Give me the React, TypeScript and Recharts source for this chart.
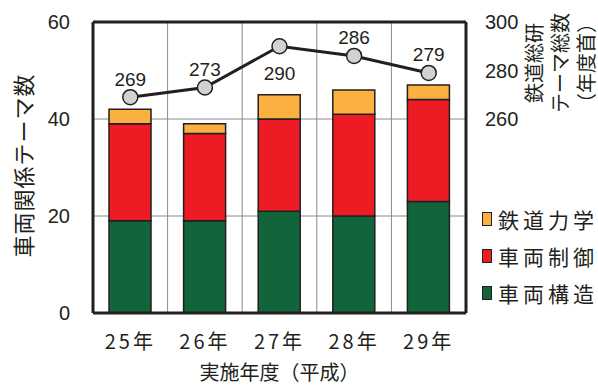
import React from 'react';
import {
    ComposedChart,
    Bar,
    Line,
    XAxis,
    YAxis,
    CartesianGrid,
    Legend,
    ReferenceLine,
    LabelList
} from 'recharts';

const years = ['25年', '26年', '27年', '28年', '29年'];
const structure = [19, 19, 21, 20, 23];   // 車両構造
const control = [20, 18, 19, 21, 21];     // 車両制御
const dynamics = [3, 2, 5, 5, 3];         // 鉄道力学
const totalThemes = [269, 273, 290, 286, 279];

const leftTicks = [0, 20, 40, 60];
const rightTicks = [260, 280, 300];
const legendOrder = ['鉄道力学', '車両制御', '車両構造'];

const data = years.map((year, i) => ({
    year,
    structure: structure[i],
    control: control[i],
    dynamics: dynamics[i],
    total: totalThemes[i]
}));

const INK = '#231f20';
const NUM_FONT = '"Liberation Sans", Arial, "Noto Sans CJK JP", sans-serif';
const JP_FONT = '"Noto Sans CJK JP", "Liberation Sans", sans-serif';

const LineLabel = (props: any) => {
    const { x, y, value, index } = props;
    const below = index === 2;
    return (
        <text
            x={x}
            y={below ? y + 27 : y - 18}
            textAnchor="middle"
            dominantBaseline="central"
            fontSize={19}
            fontFamily={NUM_FONT}
            fill={INK}
        >
            {value}
        </text>
    );
};

const LegendContent = (props: any) => {
    const items = (props.payload || []).filter((p: any) => legendOrder.includes(p.value));
    items.sort((a: any, b: any) => legendOrder.indexOf(a.value) - legendOrder.indexOf(b.value));
    return (
        <div style={{ fontFamily: JP_FONT }}>
            {items.map((item: any) => (
                <div key={item.value} style={{ display: 'flex', alignItems: 'center', height: 37 }}>
                    <span
                        style={{
                            width: 12,
                            height: 12,
                            background: item.color,
                            border: `1.5px solid ${INK}`,
                            marginRight: 6
                        }}
                    />
                    <span style={{ fontSize: 21, letterSpacing: 4, color: INK, whiteSpace: 'nowrap' }}>
                        {item.value}
                    </span>
                </div>
            ))}
        </div>
    );
};

const LeftTitle = (props: any) => {
    const { viewBox } = props;
    const cx = 22;
    const cy = viewBox.y + viewBox.height / 2 - 2;
    return (
        <text
            x={cx}
            y={cy}
            transform={`rotate(-90 ${cx} ${cy})`}
            textAnchor="middle"
            dominantBaseline="central"
            fontSize={22}
            letterSpacing={1}
            fontFamily={JP_FONT}
            fill={INK}
        >
            車両関係テーマ数
        </text>
    );
};

const rightTitleLines = ['鉄道総研', 'テーマ総数', '（年度首）'];

const RightTitle = () => {
    const cols = [533, 559, 585];
    const cy = 63;
    return (
        <g>
            {rightTitleLines.map((t, i) => (
                <text
                    key={t}
                    x={cols[i]}
                    y={cy}
                    transform={`rotate(-90 ${cols[i]} ${cy})`}
                    textAnchor="middle"
                    dominantBaseline="central"
                    fontSize={20}
                    fontFamily={JP_FONT}
                    fill={INK}
                >
                    {t}
                </text>
            ))}
        </g>
    );
};

const App: React.FC = () => {
    return (
        <div style={{ width: 598, height: 385, position: 'absolute', left: 0, top: 0 }}>
            <ComposedChart
                width={598}
                height={385}
                data={data}
                margin={{ top: 22, right: 0, left: 0, bottom: 0 }}
            >
                <CartesianGrid
                    stroke="#8a8a8a"
                    strokeWidth={1}
                    yAxisId="left"
                    verticalCoordinatesGenerator={({ offset }: any) =>
                        [1, 2, 3, 4].map((i) => offset.left + (i * offset.width) / years.length)
                    }
                />
                <XAxis
                    dataKey="year"
                    height={72}
                    axisLine={{ stroke: INK, strokeWidth: 3 }}
                    tickLine={false}
                    tickSize={0}
                    tickMargin={22}
                    tick={{ fill: INK, fontSize: 20, fontFamily: JP_FONT, letterSpacing: 3 }}
                    label={{
                        value: '実施年度（平成）',
                        position: 'insideBottom',
                        offset: 5,
                        fill: INK,
                        fontSize: 20,
                        fontFamily: JP_FONT
                    }}
                />
                <YAxis
                    yAxisId="left"
                    width={93}
                    domain={[0, 60]}
                    ticks={leftTicks}
                    axisLine={{ stroke: INK, strokeWidth: 3 }}
                    tickLine={false}
                    tickSize={0}
                    tickMargin={23}
                    tick={{ fill: INK, fontSize: 20, fontFamily: NUM_FONT }}
                    label={<LeftTitle />}
                />
                <YAxis
                    yAxisId="right"
                    orientation="right"
                    width={132}
                    domain={[180, 300]}
                    ticks={rightTicks}
                    axisLine={{ stroke: INK, strokeWidth: 3 }}
                    tickLine={false}
                    tickSize={0}
                    tickMargin={19}
                    tick={{ fill: INK, fontSize: 20, fontFamily: NUM_FONT }}
                    label={<RightTitle />}
                />
                <ReferenceLine yAxisId="left" y={60} stroke={INK} strokeWidth={3} />
                <Bar
                    yAxisId="left"
                    dataKey="structure"
                    name="車両構造"
                    stackId="a"
                    fill="#12653a"
                    stroke={INK}
                    strokeWidth={1.5}
                    barSize={42}
                    isAnimationActive={false}
                />
                <Bar
                    yAxisId="left"
                    dataKey="control"
                    name="車両制御"
                    stackId="a"
                    fill="#ed1c24"
                    stroke={INK}
                    strokeWidth={1.5}
                    barSize={42}
                    isAnimationActive={false}
                />
                <Bar
                    yAxisId="left"
                    dataKey="dynamics"
                    name="鉄道力学"
                    stackId="a"
                    fill="#fbb040"
                    stroke={INK}
                    strokeWidth={1.5}
                    barSize={42}
                    isAnimationActive={false}
                />
                <Line
                    yAxisId="right"
                    dataKey="total"
                    type="linear"
                    stroke={INK}
                    strokeWidth={3}
                    legendType="none"
                    dot={{ r: 7.5, fill: '#d1d2d4', stroke: INK, strokeWidth: 1.5 }}
                    isAnimationActive={false}
                >
                    <LabelList dataKey="total" content={<LineLabel />} />
                </Line>
                <Legend
                    layout="vertical"
                    align="center"
                    verticalAlign="middle"
                    content={<LegendContent />}
                    wrapperStyle={{ left: 482, top: 200, width: 116 }}
                />
            </ComposedChart>
        </div>
    );
};

export default App;
